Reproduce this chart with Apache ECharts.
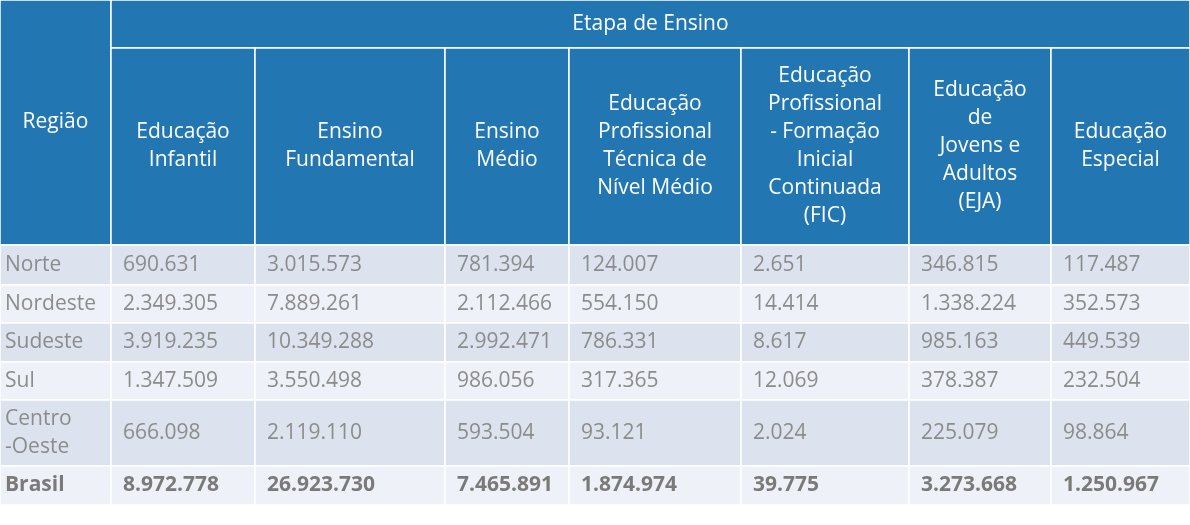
<!DOCTYPE html><html><head><meta charset="utf-8">
<script src="https://cdn.jsdelivr.net/npm/echarts@6/dist/echarts.min.js"></script>
<style>html,body{margin:0;background:#fff}#c{width:1190px;height:525px}</style></head><body><div id="c"></div>
<script>
const groupTitle = 'Etapa de Ensino';
const regionTitle = 'Região';
const columns = ['Educação\nInfantil','Ensino\nFundamental','Ensino\nMédio','Educação\nProfissional\nTécnica de\nNível Médio','Educação\nProfissional\n- Formação\nInicial\nContinuada\n(FIC)','Educação\nde\nJovens e\nAdultos\n(EJA)','Educação\nEspecial'];
const regions = ['Norte','Nordeste','Sudeste','Sul','Centro\n-Oeste','Brasil'];
const norte = ['690.631','3.015.573','781.394','124.007','2.651','346.815','117.487'];
const nordeste = ['2.349.305','7.889.261','2.112.466','554.150','14.414','1.338.224','352.573'];
const sudeste = ['3.919.235','10.349.288','2.992.471','786.331','8.617','985.163','449.539'];
const sul = ['1.347.509','3.550.498','986.056','317.365','12.069','378.387','232.504'];
const centroOeste = ['666.098','2.119.110','593.504','93.121','2.024','225.079','98.864'];
const brasil = ['8.972.778','26.923.730','7.465.891','1.874.974','39.775','3.273.668','1.250.967'];
const rowsData = [norte, nordeste, sudeste, sul, centroOeste, brasil];

// layout
const colX = [0,111,255,445,569,741,909,1051,1190];
const rowY = [0,48,245,285,323,362,400,466,505];
const BLUE = '#2277b3';
const cells = [];
cells.push({x0:0,x1:colX[1],y0:0,y1:rowY[2],text:regionTitle,kind:'head'});
cells.push({x0:colX[1],x1:colX[8],y0:0,y1:rowY[1],text:groupTitle,kind:'head'});
columns.forEach((t,i)=>cells.push({x0:colX[i+1],x1:colX[i+2],y0:rowY[1],y1:rowY[2],text:t,kind:'head'}));
regions.forEach((r,ri)=>{
  const bg = ri%2===0 ? '#dce3ef' : '#eef1f8';
  const bold = ri===regions.length-1;
  cells.push({x0:0,x1:colX[1],y0:rowY[ri+2],y1:rowY[ri+3],text:r,kind:'first',bg,bold});
  rowsData[ri].forEach((v,ci)=>cells.push({x0:colX[ci+1],x1:colX[ci+2],y0:rowY[ri+2],y1:rowY[ri+3],text:v,kind:'num',bg,bold}));
});
const data = cells.map((c,i)=>[c.x0,c.y0,c.x1,c.y1,i]);
const chart = echarts.init(document.getElementById('c'));
chart.setOption({
  animation:false,
  grid:{left:0,right:0,top:0,bottom:0},
  xAxis:{type:'value',min:0,max:1190,show:false},
  yAxis:{type:'value',min:0,max:525,inverse:true,show:false},
  series:[{type:'custom',data,renderItem:(params,api)=>{
    const c = cells[api.value(4)];
    const p0 = api.coord([api.value(0),api.value(1)]);
    const p1 = api.coord([api.value(2),api.value(3)]);
    const w = p1[0]-p0[0], h = p1[1]-p0[1];
    const head = c.kind==='head';
    const rect = {type:'rect',shape:{x:p0[0],y:p0[1],width:w,height:h},
      style:{fill: head?BLUE:c.bg, stroke:'#ffffff', lineWidth:1.5}};
    const txt = {type:'text',style:{
      text:c.text,
      x: head ? p0[0]+w/2 : p0[0]+(c.kind==='first'?5:12),
      y: p0[1]+h/2,
      align: head?'center':'left', verticalAlign:'middle',
      fill: head?'#ffffff':(c.bold?'#7a7a7a':'#8c8c8c'),
      font: (c.bold?'bold ':'') + '21px "Open Sans", sans-serif',
      lineHeight: 28
    }};
    return {type:'group',children:[rect,txt]};
  }}]
});
</script></body></html>
